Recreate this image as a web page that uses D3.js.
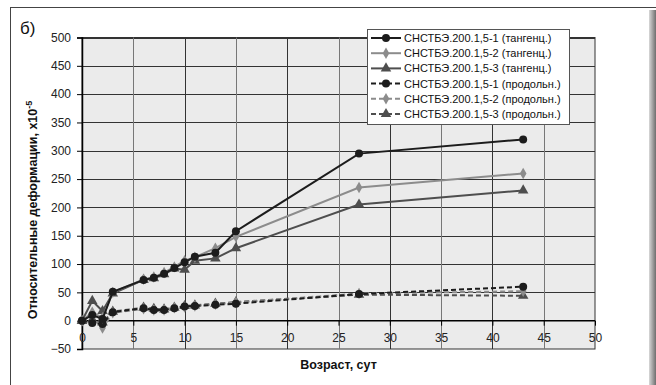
<!DOCTYPE html>
<html>
<head>
<meta charset="utf-8">
<script src="https://cdn.jsdelivr.net/npm/d3@7"></script>
<style>
  body { margin: 0; background: #fff; }
  text { font-family: "Liberation Sans", Arial, sans-serif; }
</style>
</head>
<body>
<div id="plot"></div>
<script>
// days (x)
var days = [0, 1, 2, 3, 6, 7, 8, 9, 10, 11, 13, 15, 27, 43];

// tangential strains
var tang1 = [0, 10, 3, 51, 72, 76, 83, 93, 103, 113, 120, 158, 295, 320];
var tang2 = [0, 15, 5, 50, 73, 77, 85, 95, 106, 112, 128, 148, 235, 260];
var tang3 = [0, 35, 17, 48, 72, 75, 82, 92, 90, 106, 110, 128, 205, 230];

// longitudinal strains
var long1 = [0, -4, -6, 15, 22, 19, 19, 22, 25, 26, 28, 30, 47, 60];
var long2 = [0, 5, -13, 14, 21, 19, 19, 23, 24, 26, 29, 32, 48, 52];
var long3 = [0, 2, -3, 16, 23, 21, 20, 23, 26, 27, 30, 33, 46, 44];

var seriesNames = [
  "СНСТБЭ.200.1,5-1 (тангенц.)",
  "СНСТБЭ.200.1,5-2 (тангенц.)",
  "СНСТБЭ.200.1,5-3 (тангенц.)",
  "СНСТБЭ.200.1,5-1 (продольн.)",
  "СНСТБЭ.200.1,5-2 (продольн.)",
  "СНСТБЭ.200.1,5-3 (продольн.)"
];

var xTicks = [0, 5, 10, 15, 20, 25, 30, 35, 40, 45, 50];
var yTicks = [-50, 0, 50, 100, 150, 200, 250, 300, 350, 400, 450, 500];

var colors = ["#1c1c1c", "#8c8c8c", "#4e4e4e"];
var symbols = [d3.symbolCircle, d3.symbolDiamond, d3.symbolTriangle];
var symSizes = [50, 38, 48];

var series = [tang1, tang2, tang3, long1, long2, long3].map(function (vals, i) {
  return {
    name: seriesNames[i],
    color: colors[i % 3],
    symbol: symbols[i % 3],
    size: symSizes[i % 3],
    dashed: i >= 3,
    values: days.map(function (d, j) { return { x: d, y: vals[j] }; })
  };
});

var svgWidth = 656;
var svgHeight = 385;

var svg = d3.select("#plot")
  .append("svg")
  .attr("width", svgWidth)
  .attr("height", svgHeight);

// outer frame
svg.append("line")
  .attr("x1", 10).attr("x2", 656).attr("y1", 7.5).attr("y2", 7.5)
  .attr("stroke", "#444");
svg.append("line")
  .attr("x1", 10.5).attr("x2", 10.5).attr("y1", 7).attr("y2", 385)
  .attr("stroke", "#444");

var grad = svg.append("defs").append("linearGradient")
  .attr("id", "shadow").attr("x1", 0).attr("x2", 1).attr("y1", 0).attr("y2", 0);
grad.append("stop").attr("offset", 0).attr("stop-color", "#d8d8d8");
grad.append("stop").attr("offset", 1).attr("stop-color", "#6e6e6e");
svg.append("rect")
  .attr("x", 649).attr("y", 10).attr("width", 7).attr("height", 375)
  .attr("fill", "url(#shadow)");

var x = d3.scaleLinear().domain([0, 50]).range([82, 595]);
var y = d3.scaleLinear().domain([-50, 500]).range([349, 37.5]);

// plot area
svg.append("rect")
  .attr("x", x(0)).attr("y", y(500))
  .attr("width", x(50) - x(0)).attr("height", y(-50) - y(500))
  .attr("fill", "#ebebeb")
  .attr("stroke", "#333");

svg.append("g")
  .selectAll("line")
  .data(yTicks.filter(function (t) { return t !== 0 && t !== -50; }))
  .enter().append("line")
  .attr("x1", x(0)).attr("x2", x(50))
  .attr("y1", function (d) { return Math.round(y(d)) + 0.5; })
  .attr("y2", function (d) { return Math.round(y(d)) + 0.5; })
  .attr("stroke", "#333");

svg.append("g")
  .selectAll("line")
  .data(xTicks.filter(function (t) { return t > 0 && t < 50; }))
  .enter().append("line")
  .attr("x1", function (d) { return Math.round(x(d)) + 0.5; })
  .attr("x2", function (d) { return Math.round(x(d)) + 0.5; })
  .attr("y1", y(500)).attr("y2", y(-50))
  .attr("stroke", function (d, i) { return i % 2 ? "#333" : "#777"; });

// axes
var leftAxis = d3.axisLeft(y).tickValues(yTicks).tickSize(5).tickPadding(6);
var bottomAxis = d3.axisBottom(x).tickValues(xTicks).tickSize(5).tickPadding(8);

var yAxisG = svg.append("g")
  .attr("transform", "translate(" + x(0) + ",0)")
  .call(leftAxis);
var xAxisG = svg.append("g")
  .attr("transform", "translate(0," + y(0) + ")")
  .call(bottomAxis);

[yAxisG, xAxisG].forEach(function (g) {
  g.select(".domain").attr("stroke", "#000").attr("stroke-width", 1.5);
  g.selectAll(".tick line").attr("stroke", "#000");
  g.selectAll(".tick text")
    .attr("fill", "#222")
    .style("font-size", "12px")
    .style("font-family", "'Liberation Sans', Arial, sans-serif");
});
xAxisG.select(".domain").attr("d", "M" + x(0) + ",0H" + x(50));

// series
var line = d3.line()
  .x(function (d) { return x(d.x); })
  .y(function (d) { return y(d.y); });

var drawOrder = [5, 4, 3, 2, 1, 0];
drawOrder.forEach(function (i) {
  var s = series[i];
  var g = svg.append("g");
  g.append("path")
    .attr("d", line(s.values))
    .attr("fill", "none")
    .attr("stroke", s.color)
    .attr("stroke-width", 2)
    .attr("stroke-dasharray", s.dashed ? "5,3" : null);
  g.selectAll("path.pt")
    .data(s.values)
    .enter().append("path")
    .attr("class", "pt")
    .attr("d", d3.symbol().type(s.symbol).size(s.size))
    .attr("transform", function (d) { return "translate(" + x(d.x) + "," + y(d.y) + ")"; })
    .attr("fill", s.color);
});

// legend
var legend = svg.append("g");
legend.append("rect")
  .attr("x", 367.5).attr("y", 29.5).attr("width", 202).attr("height", 95)
  .attr("fill", "#fff").attr("stroke", "#555");

var rows = legend.selectAll("g.row")
  .data(series)
  .enter().append("g")
  .attr("class", "row")
  .attr("transform", function (d, i) { return "translate(0," + (38 + i * 15.2) + ")"; });

rows.append("line")
  .attr("x1", 371).attr("x2", 401).attr("y1", 0).attr("y2", 0)
  .attr("stroke", function (d) { return d.color; })
  .attr("stroke-width", 2)
  .attr("stroke-dasharray", function (d) { return d.dashed ? "5,3" : null; });
rows.append("path")
  .attr("d", function (d) { return d3.symbol().type(d.symbol).size(d.size)(); })
  .attr("transform", "translate(386,0)")
  .attr("fill", function (d) { return d.color; });
rows.append("text")
  .attr("x", 404)
  .attr("y", 4)
  .style("font-size", "11px")
  .attr("fill", "#111")
  .text(function (d) { return d.name; });

// titles
svg.append("text")
  .attr("x", 20).attr("y", 34)
  .style("font-size", "17px")
  .attr("fill", "#111")
  .text("б)");

var yTitle = svg.append("text")
  .attr("transform", "translate(37,210) rotate(-90)")
  .attr("text-anchor", "middle")
  .style("font-size", "12.5px")
  .style("font-weight", "bold")
  .attr("fill", "#111");
yTitle.append("tspan").text("Относительные деформации, х10");
yTitle.append("tspan").attr("dy", -5).style("font-size", "9px").text("-5");

svg.append("text")
  .attr("x", (x(0) + x(50)) / 2).attr("y", 369)
  .attr("text-anchor", "middle")
  .style("font-size", "12.5px")
  .style("font-weight", "bold")
  .attr("fill", "#111")
  .text("Возраст, сут");
</script>
</body>
</html>
